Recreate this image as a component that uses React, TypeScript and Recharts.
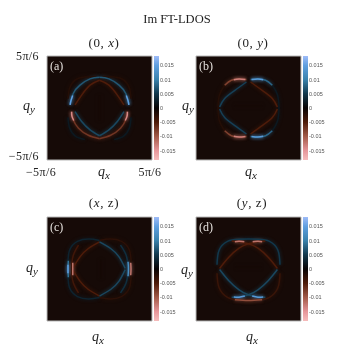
import { ComposedChart, Bar, Label, Line, ReferenceArea, XAxis, YAxis } from "recharts";

type Pt = [number, number];
type Arc = { pts: Pt[]; level: number };

// color scale
const barLevels = [0.0183, 0.015, 0.01, 0.005, 0, -0.005, -0.01, -0.015, -0.0183];
const barColors = ["#a0bcf8", "#5f9fe0", "#3a82ac", "#12384c", "#080404", "#4e1c0a", "#a25a48", "#e6969a", "#f6bcbc"];
const barTicks = [0.015, 0.01, 0.005, 0, -0.005, -0.01, -0.015];
const qTicks = [-5, 5];
const qTickLabels = ["−5π/6", "5π/6"];

// (a) (0,x)  q in units of pi/6
const aFaintUL: Pt[] = [[-3, 0.9], [-2.85, 1.9], [-2.3, 2.7], [-1.4, 2.98], [-0.3, 3.02]];
const aFaintUR: Pt[] = [[3, 0.9], [2.85, 1.9], [2.3, 2.7], [1.4, 2.98], [0.3, 3.02]];
const aFaintLL: Pt[] = [[-3, -0.9], [-2.85, -1.9], [-2.3, -2.7], [-1.4, -3.02]];
const aFaintLR: Pt[] = [[3, -0.9], [2.85, -1.9], [2.3, -2.7], [1.4, -3.02]];
const aBlueUL: Pt[] = [[-2.8, 0.3], [-2.5, 1.4], [-1.86, 2.2], [-0.9, 2.8], [0, 2.95]];
const aBlueUR: Pt[] = [[2.8, 0.3], [2.5, 1.4], [1.86, 2.2], [0.9, 2.8], [0, 2.95]];
const aBrightUL: Pt[] = [[-2.8, 0.3], [-2.72, 0.7], [-2.55, 1.2]];
const aBrightUR: Pt[] = [[2.8, 0.3], [2.72, 0.7], [2.55, 1.2]];
const aRedInUL: Pt[] = [[-2.33, 0.3], [-1.7, 1.24], [-0.9, 2.2], [0, 2.67]];
const aRedInUR: Pt[] = [[2.33, 0.3], [1.7, 1.24], [0.9, 2.2], [0, 2.67]];
const aRedLL: Pt[] = [[-2.65, -0.35], [-2.5, -1.14], [-2.0, -1.94], [-1.06, -2.62], [0, -2.95]];
const aRedLR: Pt[] = [[2.65, -0.35], [2.5, -1.14], [2.0, -1.94], [1.06, -2.62], [0, -2.95]];
const aBrightLL: Pt[] = [[-2.66, -0.35], [-2.62, -0.8], [-2.45, -1.2]];
const aBrightLR: Pt[] = [[2.66, -0.35], [2.62, -0.8], [2.45, -1.2]];
const aBlueInLL: Pt[] = [[-2.33, -0.35], [-1.7, -1.3], [-0.9, -2.1], [0, -2.67]];
const aBlueInLR: Pt[] = [[2.33, -0.35], [1.7, -1.3], [0.9, -2.1], [0, -2.67]];
const aNoise: Pt[] = [[0, -1.2], [0, 1.2]];

// (b) (0,y)
const bRedTopL: Pt[] = [[-0.2, 2.73], [-0.84, 2.8], [-1.63, 2.67], [-2.27, 2.19]];
const bBlueTopR: Pt[] = [[0.2, 2.73], [0.84, 2.8], [1.63, 2.67], [2.27, 2.19]];
const bRedBotL: Pt[] = [[-0.2, -2.73], [-0.84, -2.8], [-1.63, -2.67], [-2.27, -2.19]];
const bBlueBotR: Pt[] = [[0.2, -2.73], [0.84, -2.8], [1.63, -2.67], [2.27, -2.19]];
const bSideL: Pt[] = [[-2.27, 2.19], [-2.75, 1.3], [-2.9, 0], [-2.75, -1.3], [-2.27, -2.19]];
const bSideR: Pt[] = [[2.27, 2.19], [2.75, 1.3], [2.9, 0], [2.75, -1.3], [2.27, -2.19]];
const bBlueInUL: Pt[] = [[-0.2, 2.5], [-1.3, 1.7], [-2.27, 0.92], [-2.75, 0.1]];
const bBlueInLL: Pt[] = [[-0.2, -2.5], [-1.3, -1.7], [-2.27, -0.92], [-2.75, -0.1]];
const bRedInUR: Pt[] = [[0.2, 2.5], [1.3, 1.7], [2.27, 0.92], [2.75, 0.1]];
const bRedInLR: Pt[] = [[0.2, -2.5], [1.3, -1.7], [2.27, -0.92], [2.75, -0.1]];
const bBrightRedT: Pt[] = [[-0.3, 2.74], [-0.9, 2.8], [-1.4, 2.72]];
const bBrightBlueT: Pt[] = [[0.3, 2.74], [0.9, 2.8], [1.4, 2.72]];
const bBrightRedB: Pt[] = [[-0.3, -2.74], [-0.9, -2.8], [-1.4, -2.72]];
const bBrightBlueB: Pt[] = [[0.3, -2.74], [0.9, -2.8], [1.4, -2.72]];
const bNoise: Pt[] = [[-1.3, 0.2], [1.3, 0.2]];

// (c) (x,z)
const cBlueVert: Pt[] = [[-2.97, 0.8], [-3, 0], [-2.97, -0.8]];
const cBlueCore: Pt[] = [[-3, 0.4], [-3, 0], [-3, -0.4]];
const cPinkVertL: Pt[] = [[-2.55, 0.6], [-2.55, 0], [-2.55, -0.6]];
const cRedUL: Pt[] = [[0, 2.6], [-1.06, 1.97], [-1.86, 1.17], [-2.55, 0.06]];
const cRedLL: Pt[] = [[0, -2.6], [-1.06, -1.97], [-1.86, -1.17], [-2.55, -0.06]];
const cRedArc: Pt[] = [[-2.0, 2.3], [-2.5, 1.3], [-2.65, 0], [-2.5, -1.3], [-2.0, -2.3]];
const cBlueRoundU: Pt[] = [[0, 2.75], [-1, 2.88], [-2.1, 2.65], [-2.85, 1.8], [-3, 0.6]];
const cBlueRoundL: Pt[] = [[0, -2.75], [-1, -2.88], [-2.1, -2.65], [-2.85, -1.8], [-3, -0.6]];
const cBlueUR: Pt[] = [[0, 2.6], [1.06, 1.97], [1.86, 1.17], [2.45, 0.06]];
const cBlueLR: Pt[] = [[0, -2.6], [1.06, -1.97], [1.86, -1.17], [2.45, -0.06]];
const cBlueArcR: Pt[] = [[2.0, 2.3], [2.55, 1.3], [2.72, 0], [2.55, -1.3], [2.0, -2.3]];
const cBrightR: Pt[] = [[2.72, 0.7], [2.75, 0], [2.72, -0.7]];
const cPinkR: Pt[] = [[2.97, 0.6], [3, 0], [2.97, -0.6]];
const cRedRoundU: Pt[] = [[0, 2.75], [1, 2.88], [2.1, 2.65], [2.85, 1.8], [3, 0.6]];
const cRedRoundL: Pt[] = [[0, -2.75], [1, -2.88], [2.1, -2.65], [2.85, -1.8], [3, -0.6]];
const cNoise: Pt[] = [[0.15, -0.9], [0.15, 0.9]];

// (d) (y,z)
const dBlueTop: Pt[] = [[-3, 0.4], [-2.8, 1.8], [-2.0, 2.65], [-1, 2.85], [0, 2.88], [1, 2.85], [2.0, 2.65], [2.8, 1.8], [3, 0.4]];
const dRedL: Pt[] = [[-2.75, 0.05], [-1.9, 1.1], [-0.9, 2.0], [0, 2.42], [0.9, 2.62], [1.6, 2.7]];
const dRedR: Pt[] = [[2.75, 0.05], [1.9, 1.1], [0.9, 2.0], [0, 2.42], [-0.9, 2.62], [-1.6, 2.7]];
const dPinkTopL: Pt[] = [[-1.3, 2.62], [-0.9, 2.66], [-0.4, 2.62]];
const dPinkTopR: Pt[] = [[1.3, 2.62], [0.9, 2.66], [0.4, 2.62]];
const dBlueL: Pt[] = [[-2.75, -0.05], [-1.9, -1.1], [-0.9, -2.0], [0, -2.48], [0.9, -2.68], [1.6, -2.72]];
const dBlueR: Pt[] = [[2.75, -0.05], [1.9, -1.1], [0.9, -2.0], [0, -2.48], [-0.9, -2.68], [-1.6, -2.72]];
const dBrightL: Pt[] = [[-1.4, -2.7], [-0.9, -2.72], [-0.35, -2.6]];
const dBrightR: Pt[] = [[1.4, -2.7], [0.9, -2.72], [0.35, -2.6]];
const dRedBot: Pt[] = [[-3, -0.4], [-2.8, -1.8], [-2.0, -2.72], [-1, -2.98], [0, -3.02], [1, -2.98], [2.0, -2.72], [2.8, -1.8], [3, -0.4]];
const dRedBotBright: Pt[] = [[-1.3, -2.95], [0, -3.02], [1.3, -2.95]];
const dNoise: Pt[] = [[-1.2, 0.2], [1.2, 0.2]];

const panelA: Arc[] = [
  { pts: aFaintUL, level: -0.002 }, { pts: aFaintUR, level: -0.002 },
  { pts: aFaintLL, level: 0.002 }, { pts: aFaintLR, level: 0.002 },
  { pts: aNoise, level: -0.001 },
  { pts: aRedInUL, level: -0.005 }, { pts: aRedInUR, level: -0.005 },
  { pts: aBlueInLL, level: 0.006 }, { pts: aBlueInLR, level: 0.006 },
  { pts: aBlueUL, level: 0.007 }, { pts: aBlueUR, level: 0.007 },
  { pts: aRedLL, level: -0.007 }, { pts: aRedLR, level: -0.007 },
  { pts: aBrightUL, level: 0.015 }, { pts: aBrightUR, level: 0.015 },
  { pts: aBrightLL, level: -0.014 }, { pts: aBrightLR, level: -0.014 },
];
const panelB: Arc[] = [
  { pts: bSideL, level: -0.002 }, { pts: bSideR, level: 0.002 },
  { pts: bNoise, level: -0.001 },
  { pts: bBlueInUL, level: 0.0055 }, { pts: bBlueInLL, level: 0.0055 },
  { pts: bRedInUR, level: -0.005 }, { pts: bRedInLR, level: -0.005 },
  { pts: bRedTopL, level: -0.008 }, { pts: bRedBotL, level: -0.008 },
  { pts: bBlueTopR, level: 0.008 }, { pts: bBlueBotR, level: 0.008 },
  { pts: bBrightRedT, level: -0.013 }, { pts: bBrightRedB, level: -0.013 },
  { pts: bBrightBlueT, level: 0.014 }, { pts: bBrightBlueB, level: 0.014 },
];
const panelC: Arc[] = [
  { pts: cRedRoundU, level: -0.0025 }, { pts: cRedRoundL, level: -0.0025 },
  { pts: cBlueRoundU, level: 0.003 }, { pts: cBlueRoundL, level: 0.003 },
  { pts: cNoise, level: -0.001 },
  { pts: cRedArc, level: -0.004 }, { pts: cBlueArcR, level: 0.004 },
  { pts: cRedUL, level: -0.005 }, { pts: cRedLL, level: -0.005 },
  { pts: cBlueUR, level: 0.006 }, { pts: cBlueLR, level: 0.006 },
  { pts: cBlueVert, level: 0.009 }, { pts: cBlueCore, level: 0.015 }, { pts: cPinkVertL, level: -0.012 },
  { pts: cBrightR, level: 0.012 }, { pts: cPinkR, level: -0.012 },
];
const panelD: Arc[] = [
  { pts: dNoise, level: -0.001 },
  { pts: dBlueTop, level: 0.005 }, { pts: dRedBot, level: -0.0035 },
  { pts: dRedL, level: -0.005 }, { pts: dRedR, level: -0.005 },
  { pts: dBlueL, level: 0.006 }, { pts: dBlueR, level: 0.006 },
  { pts: dRedBotBright, level: -0.009 },
  { pts: dPinkTopL, level: -0.012 }, { pts: dPinkTopR, level: -0.012 },
  { pts: dBrightL, level: 0.014 }, { pts: dBrightR, level: 0.014 },
];

const W = 337;
const H = 359;
const serif = "'Liberation Serif', serif";

const mix = (a: string, b: string, t: number) => {
  const ch = (c: string, i: number) => parseInt(c.slice(1 + i * 2, 3 + i * 2), 16);
  const out = [0, 1, 2].map((i) => Math.round(ch(a, i) + (ch(b, i) - ch(a, i)) * t));
  return `rgb(${out.join(",")})`;
};

const levelColor = (v: number) => {
  for (let i = 0; i < barLevels.length - 1; i++) {
    if (v <= barLevels[i] && v >= barLevels[i + 1]) {
      return mix(barColors[i], barColors[i + 1], (barLevels[i] - v) / (barLevels[i] - barLevels[i + 1]));
    }
  }
  return barColors[0];
};

const MathLabel = ({ x, y, parts }: { x: number; y: number; parts: string[] }) => (
  <text x={x} y={y} textAnchor="middle" fontFamily={serif} fontSize={13} fill="#222" letterSpacing={0.6}>
    <tspan>{parts[0]}</tspan>
    <tspan fontStyle="italic">{parts[1]}</tspan>
    <tspan>{parts[2]}</tspan>
  </text>
);

const QLabel = ({ x, y, sub }: { x: number; y: number; sub: string }) => (
  <text x={x} y={y} textAnchor="middle" fontFamily={serif} fontSize={14} fill="#222" fontStyle="italic">
    <tspan>q</tspan>
    <tspan dy={3} fontSize={11}>{sub}</tspan>
  </text>
);

type PanelProps = {
  left: number;
  top: number;
  arcs: Arc[];
  letter: string;
  title: string[];
  titleX: number;
  titleY: number;
  yLabel: [number, number];
  xLabel: [number, number];
  showTicks?: boolean;
  pageTitle?: boolean;
};

const XTick = ({ x, y, payload }: any) => (
  <text x={x + (payload.value < 0 ? -6 : -2)} y={y + 8} textAnchor="middle" fontFamily={serif} fontSize={12} letterSpacing={0.4} fill="#222">
    {qTickLabels[qTicks.indexOf(payload.value)]}
  </text>
);

const YTick = ({ x, y, payload }: any) => (
  <text x={x} y={y + (payload.value < 0 ? 0 : 4)} textAnchor="end" fontFamily={serif} fontSize={12} letterSpacing={0.4} fill="#222">
    {qTickLabels[qTicks.indexOf(payload.value)]}
  </text>
);

function Panel({ left, top, arcs, letter, title, titleX, titleY, yLabel, xLabel, showTicks, pageTitle }: PanelProps) {
  const size = 105;
  return (
    <div style={{ position: "absolute", left: 0, top: 0 }}>
      <ComposedChart width={W} height={H} margin={{ left: left - 1, top, right: W - left - size, bottom: H - top - 105 }}>
        <XAxis
          type="number"
          dataKey="x"
          domain={[-5, 5]}
          ticks={qTicks}
          height={1}
          axisLine={false}
          tickLine={false}
          tick={showTicks ? XTick : false}
          allowDataOverflow
        >
          <Label
            content={() => (
              <g>
                <MathLabel x={titleX} y={titleY} parts={title} />
                <QLabel x={xLabel[0]} y={xLabel[1]} sub="x" />
                {pageTitle && (
                  <text x={177} y={23} textAnchor="middle" fontFamily={serif} fontSize={12.5} fill="#222">
                    Im FT-LDOS
                  </text>
                )}
              </g>
            )}
          />
        </XAxis>
        <YAxis
          type="number"
          dataKey="y"
          domain={[-5, 5]}
          ticks={qTicks}
          width={1}
          axisLine={false}
          tickLine={false}
          tick={showTicks ? YTick : false}
          allowDataOverflow
        >
          <Label content={() => <QLabel x={yLabel[0]} y={yLabel[1]} sub="y" />} />
        </YAxis>
        <ReferenceArea x1={-5} x2={5} y1={-5} y2={5} fill="#160a07" fillOpacity={1} stroke="#b8b8b8" strokeWidth={1} />
        {arcs.map((a, i) => (
          <Line
            key={`glow${i}`}
            data={a.pts.map(([x, y]) => ({ x, y }))}
            dataKey="y"
            type="natural"
            dot={false}
            activeDot={false}
            stroke={levelColor(a.level)}
            strokeWidth={4}
            strokeOpacity={0.35}
            style={{ filter: "blur(1.5px)" }}
            isAnimationActive={false}
            legendType="none"
          />
        ))}
        {arcs.map((a, i) => (
          <Line
            key={`core${i}`}
            data={a.pts.map(([x, y]) => ({ x, y }))}
            dataKey="y"
            type="natural"
            dot={false}
            activeDot={false}
            stroke={levelColor(a.level)}
            strokeWidth={1.5}
            style={{ filter: "blur(0.5px)" }}
            isAnimationActive={false}
            legendType="none"
          />
        ))}
      </ComposedChart>
      <div style={{ position: "absolute", left: left + 3, top: top + 10, color: "#e4e0dc", fontFamily: serif, fontSize: 12, lineHeight: "1px" }}>
        {letter}
      </div>
      <ColorBar left={left + size + 2} top={top} />
    </div>
  );
}

function ColorBar({ left, top }: { left: number; top: number }) {
  const id = `cb${left}${top}`;
  return (
    <div style={{ position: "absolute", left, top: top, width: 30, height: 104 }}>
      <ComposedChart
        width={30}
        height={104}
        data={[{ name: "bar", range: [barLevels[barLevels.length - 1], barLevels[0]] }]}
        margin={{ left: 0, right: 24, top: 0, bottom: 0 }}
        barCategoryGap={0}
      >
        <defs>
          <linearGradient id={id} x1="0" y1="0" x2="0" y2="1">
            {barLevels.map((v, i) => (
              <stop key={v} offset={(barLevels[0] - v) / (barLevels[0] * 2)} stopColor={barColors[i]} />
            ))}
          </linearGradient>
        </defs>
        <XAxis dataKey="name" hide />
        <YAxis
          orientation="right"
          type="number"
          domain={[barLevels[barLevels.length - 1], barLevels[0]]}
          ticks={barTicks}
          width={1}
          axisLine={false}
          tickLine={false}
          tickSize={0}
          tickMargin={1}
          interval={0}
          tick={{ fontSize: 5.5, fontFamily: "'Liberation Sans', sans-serif", fill: "#555", textAnchor: "start" }}
        />
        <Bar dataKey="range" fill={`url(#${id})`} isAnimationActive={false} />
      </ComposedChart>
    </div>
  );
}

export default function App() {
  return (
    <div style={{ position: "absolute", left: 0, top: 0, width: W, height: H, background: "#fff", overflow: "hidden", filter: "blur(0.25px)" }}>
      <Panel left={47} top={56} arcs={panelA} letter="(a)" title={["(0, ", "x", ")"]} titleX={104} titleY={47} yLabel={[29, 110]} xLabel={[104, 176]} showTicks pageTitle />
      <Panel left={196} top={56} arcs={panelB} letter="(b)" title={["(0, ", "y", ")"]} titleX={253} titleY={47} yLabel={[188, 110]} xLabel={[251, 176]} />
      <Panel left={47} top={217} arcs={panelC} letter="(c)" title={["(", "x", ", z)"]} titleX={104} titleY={207} yLabel={[32, 272]} xLabel={[98, 341]} />
      <Panel left={196} top={217} arcs={panelD} letter="(d)" title={["(", "y", ", z)"]} titleX={252} titleY={207} yLabel={[187, 274]} xLabel={[252, 341]} />
    </div>
  );
}
